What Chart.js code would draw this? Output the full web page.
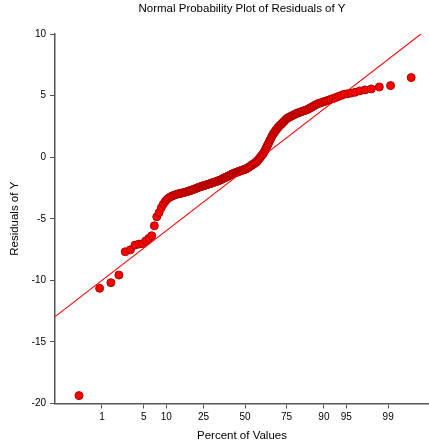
<!doctype html>
<html>
<head>
<meta charset="utf-8">
<title>Normal Probability Plot of Residuals of Y</title>
<script src="https://cdn.jsdelivr.net/npm/chart.js@4.4.1/dist/chart.umd.min.js"></script>
<style>
  html, body { margin: 0; padding: 0; background: #ffffff; }
  #chart { display: block; }
</style>
</head>
<body>
<canvas id="chart" width="429" height="446"></canvas>
<script>
// Sorted residuals (lower tail, body, upper tail).
const lowerTail = [-19.36, -10.65, -10.19, -9.57, -7.68, -7.52, -7.14, -7.06, -7.02, -6.79, -6.59, -6.38, -5.57,
  -4.84, -4.50, -4.10, -3.80, -3.57, -3.40, -3.28, -3.20, -3.13, -3.08, -3.03, -2.99];
const body = [-2.96, -2.93, -2.91, -2.88, -2.85, -2.82, -2.78, -2.74, -2.71, -2.68, -2.64, -2.60, -2.57, -2.53, -2.49,
  -2.45, -2.42, -2.39, -2.36, -2.33, -2.30, -2.28, -2.25, -2.22, -2.19, -2.17, -2.14, -2.11, -2.08, -2.06, -2.03,
  -2.00, -1.98, -1.95, -1.92, -1.89, -1.87, -1.83, -1.79, -1.75, -1.71, -1.68, -1.64, -1.61, -1.57, -1.54, -1.50,
  -1.46, -1.43, -1.39, -1.36, -1.32, -1.30, -1.27, -1.24, -1.22, -1.19, -1.17, -1.14, -1.12, -1.09, -1.07, -1.04,
  -1.02, -0.99, -0.96, -0.94, -0.90, -0.85, -0.80, -0.76, -0.71, -0.66, -0.62, -0.57, -0.52, -0.48, -0.43, -0.38,
  -0.29, -0.20, -0.11, -0.02, 0.07, 0.16, 0.25, 0.36, 0.51, 0.65, 0.80, 0.95, 1.09, 1.24, 1.39, 1.54, 1.70, 1.85,
  1.96, 2.07, 2.18, 2.28, 2.39, 2.48, 2.56, 2.64, 2.72, 2.81, 2.89, 2.98, 3.06, 3.15];
const upperTail = [3.20, 3.25, 3.29, 3.34, 3.39, 3.43, 3.48, 3.53, 3.58, 3.61, 3.65, 3.68, 3.72, 3.76, 3.80, 3.84,
  3.89, 3.96, 4.03, 4.10, 4.17, 4.25, 4.32, 4.37, 4.42, 4.47, 4.52, 4.58, 4.64, 4.70, 4.77, 4.85, 4.93, 5.01,
  5.11, 5.15, 5.20, 5.27, 5.38, 5.46, 5.54, 5.70, 5.81, 6.46];

const percentTicks = [1, 5, 10, 25, 50, 75, 90, 95, 99];
const yTicks = [10, 5, 0, -5, -10, -15, -20];

// reference line through the residuals: y = intercept + slope * z
const fitIntercept = -1.03;
const fitSlope = 3.857;
const zMin = -3.09;
const zMax = 2.99;

// inverse standard normal CDF (Acklam)
function probit(p) {
  const a = [-3.969683028665376e+01, 2.209460984245205e+02, -2.759285104469687e+02, 1.383577518672690e+02, -3.066479806614716e+01, 2.506628277459239e+00];
  const b = [-5.447609879822406e+01, 1.615858368580409e+02, -1.556989798598866e+02, 6.680131188771972e+01, -1.328068155288572e+01];
  const c = [-7.784894002430293e-03, -3.223964580411365e-01, -2.400758277161838e+00, -2.549732539343734e+00, 4.374664424358783e+00, 2.938163982698783e+00];
  const d = [7.784695709041462e-03, 3.224671290700398e-01, 2.445134137142996e+00, 3.754408661907416e+00];
  const pl = 0.02425;
  let q, r;
  if (p < pl) {
    q = Math.sqrt(-2 * Math.log(p));
    return (((((c[0]*q+c[1])*q+c[2])*q+c[3])*q+c[4])*q+c[5]) / ((((d[0]*q+d[1])*q+d[2])*q+d[3])*q+1);
  }
  if (p > 1 - pl) {
    q = Math.sqrt(-2 * Math.log(1 - p));
    return -(((((c[0]*q+c[1])*q+c[2])*q+c[3])*q+c[4])*q+c[5]) / ((((d[0]*q+d[1])*q+d[2])*q+d[3])*q+1);
  }
  q = p - 0.5; r = q * q;
  return (((((a[0]*r+a[1])*r+a[2])*r+a[3])*r+a[4])*r+a[5])*q / (((((b[0]*r+b[1])*r+b[2])*r+b[3])*r+b[4])*r+1);
}

const residuals = [...lowerTail, ...body, ...upperTail];
const n = residuals.length;
// Blom plotting positions -> normal scores
const points = residuals.map((y, i) => ({ x: probit((i + 1 - 0.375) / (n + 0.25)), y }));
const fitLine = [zMin, zMax].map(z => ({ x: z, y: fitIntercept + fitSlope * z }));

const AXIS = '#555555';
Chart.defaults.font.family = '"Liberation Sans", Arial, Helvetica, sans-serif';
Chart.defaults.color = '#000000';

new Chart(document.getElementById('chart'), {
  type: 'scatter',
  data: {
    datasets: [
      {
        label: 'Fit',
        type: 'line',
        data: fitLine,
        borderColor: '#ff0000',
        borderWidth: 1.1,
        pointRadius: 0,
        fill: false,
        order: 0
      },
      {
        label: 'Residuals',
        data: points,
        backgroundColor: '#ff0000',
        borderColor: '#a80000',
        borderWidth: 1,
        pointRadius: 4,
        order: 1
      }
    ]
  },
  options: {
    responsive: false,
    animation: false,
    layout: { padding: 0, autoPadding: false },
    plugins: {
      legend: { display: false },
      tooltip: { enabled: false }
    },
    scales: {
      // title sits over the plot area, so it is carried by a bare top axis
      top: {
        type: 'linear',
        position: 'top',
        min: zMin,
        max: zMax,
        afterFit: (scale) => { scale.height = 34; },
        ticks: { display: false },
        grid: { display: false },
        border: { display: false },
        title: { display: true, text: 'Normal Probability Plot of Residuals of Y', font: { size: 11.5 }, padding: { top: 2, bottom: 0 } }
      },
      x: {
        type: 'linear',
        min: zMin,
        max: zMax,
        afterFit: (scale) => { scale.height = 42.5; },
        afterBuildTicks: (scale) => { scale.ticks = percentTicks.map(p => ({ value: probit(p / 100) })); },
        ticks: {
          font: { size: 10 },
          padding: 3,
          autoSkip: false,
          maxRotation: 0,
          callback: (v, i) => percentTicks[i]
        },
        grid: { drawOnChartArea: false, drawTicks: true, tickLength: 5, color: AXIS, lineWidth: 1 },
        border: { display: true, color: AXIS, width: 1.5 },
        title: { display: true, text: 'Percent of Values', font: { size: 11.5 }, padding: { top: 0, bottom: 3 } }
      },
      y: {
        min: -20,
        max: 10,
        afterFit: (scale) => { scale.width = 55; },
        afterBuildTicks: (scale) => { scale.ticks = yTicks.map(v => ({ value: v })); },
        ticks: { font: { size: 10 }, padding: 4 },
        grid: { drawOnChartArea: false, drawTicks: true, tickLength: 5, color: AXIS, lineWidth: 1 },
        border: { display: true, color: AXIS, width: 1.5 },
        title: { display: true, text: 'Residuals of Y', font: { size: 11.5 }, padding: { top: 8, bottom: 0 } }
      }
    }
  }
});
</script>
</body>
</html>
